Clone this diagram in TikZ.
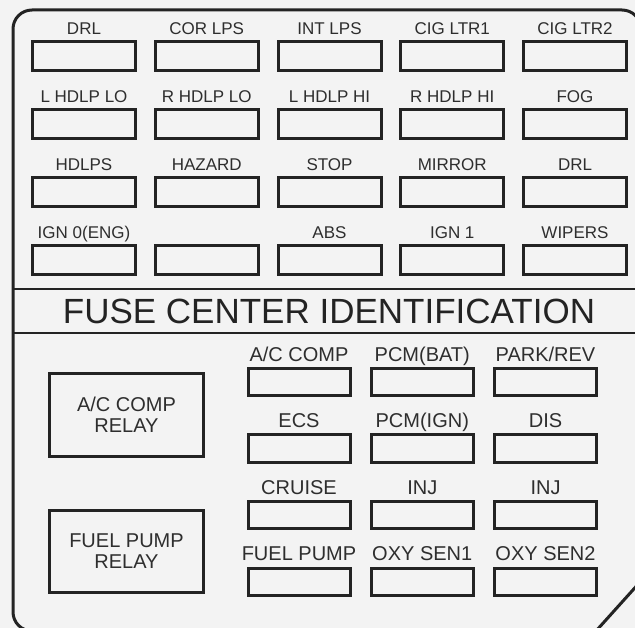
\documentclass[tikz,border=0pt]{standalone}
\usepackage{fontspec}
\setmainfont{Liberation Sans}
\usetikzlibrary{positioning}
\definecolor{linha}{HTML}{232323}
\definecolor{texto}{HTML}{2E2E2E}
\definecolor{fundo}{HTML}{F3F3F3}
\tikzset{
  fuse/.style={draw=linha, line width=3pt, outer sep=0pt, inner sep=0pt, minimum width=#1, minimum height=29pt},
  fuse/.default=103pt,
  small/.style={fuse=102pt, minimum height=27pt},
  tag/.style={inner sep=0pt, text height=12.2pt, text depth=0pt, label distance=7pt, text=texto, font=\fontsize{17}{17}\selectfont},
  bigtag/.style={tag, text height=14.3pt, font=\fontsize{20}{20}\selectfont},
  relay/.style={draw=linha, line width=3pt, outer sep=0pt, minimum width=154pt, minimum height=82pt, align=center, text=texto, font=\fontsize{20}{21}\selectfont},
}

\begin{document}
\begin{tikzpicture}[x=1pt, y=-1pt, node distance=39pt and 19.75pt]
  \useasboundingbox (0,0) rectangle (635,628);
  \clip (0,0) rectangle (635,628);
  \fill[fundo] (0,0) rectangle (635,628);
  % frame and title band
  \draw[linha, line width=3pt, rounded corners=19pt] (13,300) -- (13,10) -- (641,10) -- (641,560) [sharp corners] -- (641,581) -- (596,631) -- (560,631) [rounded corners=19pt] -- (13,631) -- cycle;
  \draw[linha, line width=2.5pt] (13,289) -- (641,289);
  \draw[linha, line width=2.5pt] (13,333) -- (641,333);
  \node[text=linha, font=\fontsize{35}{35}\selectfont] (title) at (329,311) {FUSE CENTER IDENTIFICATION};

  % upper fuse block
  \node[fuse, label={[tag]above:DRL}] (a1) at (84,56) {};
  \node[fuse, right=of a1, label={[tag]above:COR LPS}] (a2) {};
  \node[fuse, right=of a2, label={[tag]above:INT LPS}] (a3) {};
  \node[fuse, right=of a3, label={[tag]above:CIG LTR1}] (a4) {};
  \node[fuse, right=of a4, label={[tag]above:CIG LTR2}] (a5) {};
  \node[fuse, below=of a1, label={[tag]above:L HDLP LO}] (b1) {};
  \node[fuse, right=of b1, label={[tag]above:R HDLP LO}] (b2) {};
  \node[fuse, right=of b2, label={[tag]above:L HDLP HI}] (b3) {};
  \node[fuse, right=of b3, label={[tag]above:R HDLP HI}] (b4) {};
  \node[fuse, right=of b4, label={[tag]above:FOG}] (b5) {};
  \node[fuse, below=of b1, label={[tag]above:HDLPS}] (c1) {};
  \node[fuse, right=of c1, label={[tag]above:HAZARD}] (c2) {};
  \node[fuse, right=of c2, label={[tag]above:STOP}] (c3) {};
  \node[fuse, right=of c3, label={[tag]above:MIRROR}] (c4) {};
  \node[fuse, right=of c4, label={[tag]above:DRL}] (c5) {};
  \node[fuse, below=of c1, label={[tag]above:IGN 0(ENG)}] (d1) {};
  \node[fuse, right=of d1] (d2) {};
  \node[fuse, right=of d2, label={[tag]above:ABS}] (d3) {};
  \node[fuse, right=of d3, label={[tag]above:IGN 1}] (d4) {};
  \node[fuse, right=of d4, label={[tag]above:WIPERS}] (d5) {};

  % relays
  \node[relay] (acrelay) at (126.5,415) {A/C COMP\\RELAY};
  \node[relay, below=54pt of acrelay] (fprelay) {FUEL PUMP\\RELAY};

  % lower fuse block
  \begin{scope}[node distance=39.5pt and 21.25pt]
  \node[small, label={[bigtag]above:A/C COMP}] (e1) at (299,382) {};
  \node[small, right=of e1, label={[bigtag]above:PCM(BAT)}] (e2) {};
  \node[small, right=of e2, label={[bigtag]above:PARK/REV}] (e3) {};
  \node[small, below=of e1, label={[bigtag]above:ECS}] (f1) {};
  \node[small, right=of f1, label={[bigtag]above:PCM(IGN)}] (f2) {};
  \node[small, right=of f2, label={[bigtag]above:DIS}] (f3) {};
  \node[small, below=of f1, label={[bigtag]above:CRUISE}] (g1) {};
  \node[small, right=of g1, label={[bigtag]above:INJ}] (g2) {};
  \node[small, right=of g2, label={[bigtag]above:INJ}] (g3) {};
  \node[small, below=of g1, label={[bigtag]above:FUEL PUMP}] (h1) {};
  \node[small, right=of h1, label={[bigtag]above:OXY SEN1}] (h2) {};
  \node[small, right=of h2, label={[bigtag]above:OXY SEN2}] (h3) {};
  \end{scope}
\end{tikzpicture}
\end{document}
